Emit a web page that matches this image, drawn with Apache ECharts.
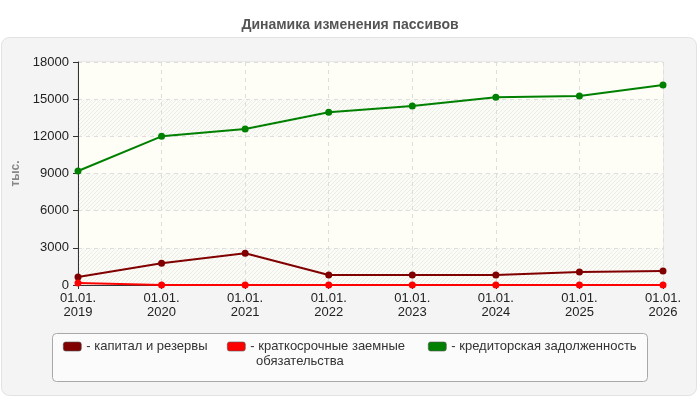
<!DOCTYPE html>
<html lang="ru">
<head>
<meta charset="utf-8">
<title>Динамика изменения пассивов</title>
<script src="https://cdn.jsdelivr.net/npm/echarts@6/dist/echarts.min.js"></script>
<style>
  html, body { margin: 0; padding: 0; background: #ffffff; }
  #chart { width: 700px; height: 400px; }
</style>
</head>
<body>
<div id="chart"></div>
<script>
const FONT = '"Liberation Sans", Arial, sans-serif';

// Данные (тыс.)
const dates = ['01.01.\n2019', '01.01.\n2020', '01.01.\n2021', '01.01.\n2022',
  '01.01.\n2023', '01.01.\n2024', '01.01.\n2025', '01.01.\n2026'];
const capital = [650, 1750, 2560, 800, 800, 800, 1050, 1130];
const shortLoans = [170, 0, 0, 0, 0, 0, 0, 0];
const payables = [9200, 12000, 12600, 13950, 14450, 15150, 15250, 16150];

const seriesNames = ['капитал и резервы', 'краткосрочные заемные обязательства', 'кредиторская задолженность'];
const seriesColors = ['#800000', '#ff0000', '#008000'];
const yTicks = { min: 0, max: 18000, interval: 3000 };

// штриховка для чередующихся полос фона
function hatch() {
  const c = document.createElement('canvas');
  c.width = 4; c.height = 4;
  const ctx = c.getContext('2d');
  ctx.fillStyle = '#fcfcf7';
  ctx.fillRect(0, 0, 4, 4);
  ctx.strokeStyle = '#ebebe7';
  ctx.lineWidth = 1;
  ctx.beginPath();
  ctx.moveTo(-1, 5); ctx.lineTo(5, -1);
  ctx.moveTo(3, 5); ctx.lineTo(5, 3);
  ctx.moveTo(-1, 1); ctx.lineTo(1, -1);
  ctx.stroke();
  return { image: c, repeat: 'repeat' };
}

const chart = echarts.init(document.getElementById('chart'), null, { renderer: 'canvas' });

const lineSeries = [capital, shortLoans, payables].map((data, i) => ({
  name: seriesNames[i],
  type: 'line',
  data,
  color: seriesColors[i],
  symbol: 'circle',
  symbolSize: 7,
  lineStyle: { width: 2, color: seriesColors[i] },
  itemStyle: { color: seriesColors[i] },
  emphasis: { disabled: true },
  z: 3 + i,
}));

// одна легенда на серию, чтобы выставить позиции как на картинке
const legendLeft = [63, 227, 428];
const legends = seriesNames.map((name, i) => ({
  left: legendLeft[i],
  top: 340,
  padding: 0,
  itemWidth: 18,
  itemHeight: 9,
  icon: 'roundRect',
  selectedMode: false,
  data: [{ name, itemStyle: { color: seriesColors[i], borderColor: '#555555', borderWidth: 0.6 } }],
  formatter: (n) => '- ' + (n === seriesNames[1] ? 'краткосрочные заемные' : n),
  textStyle: { fontFamily: FONT, fontSize: 13, color: '#333333' },
}));

chart.setOption({
  animation: false,
  backgroundColor: '#ffffff',
  textStyle: { fontFamily: FONT },
  title: {
    text: 'Динамика изменения пассивов',
    left: 'center',
    top: 13,
    textStyle: { fontFamily: FONT, fontSize: 14, fontWeight: 'bold', color: '#555555' },
  },
  graphic: [
    {
      type: 'rect', z: -10, silent: true,
      shape: { x: 1.5, y: 37.5, width: 695, height: 358, r: 8 },
      style: { fill: '#f4f4f4', stroke: '#e2e2e2', lineWidth: 1 },
    },
    {
      type: 'rect', z: -9, silent: true,
      shape: { x: 52.5, y: 333.5, width: 595, height: 48, r: 4 },
      style: { fill: '#fbfbfb', stroke: '#a8a8a8', lineWidth: 1 },
    },
    {
      type: 'text', z: 10, silent: true,
      left: 256, top: 355,
      style: { text: 'обязательства', fontFamily: FONT, fontSize: 13, fill: '#333333' },
    },
  ],
  legend: legends,
  grid: {
    left: 78,
    right: 37,
    top: 62,
    bottom: 115,
    show: true,
    backgroundColor: '#fefef7',
    borderColor: '#dddddd',
    borderWidth: 1,
  },
  xAxis: {
    type: 'category',
    data: dates,
    boundaryGap: false,
    axisLine: { lineStyle: { color: '#333333', width: 1 } },
    axisTick: { show: true, length: 4, lineStyle: { color: '#333333' } },
    axisLabel: { margin: 6, fontSize: 13, lineHeight: 14, color: '#222222', fontFamily: FONT },
    splitLine: { show: true, lineStyle: { color: '#dddddd', type: [4, 4] } },
  },
  yAxis: {
    type: 'value',
    min: yTicks.min,
    max: yTicks.max,
    interval: yTicks.interval,
    name: 'тыс.',
    nameLocation: 'middle',
    nameGap: 46,
    nameTextStyle: { fontFamily: FONT, fontSize: 12, fontWeight: 'bold', color: '#888888' },
    axisLine: { show: true, lineStyle: { color: '#333333', width: 1 } },
    axisTick: { show: true, length: 5, lineStyle: { color: '#333333' } },
    axisLabel: { margin: 9, fontSize: 13, color: '#222222', fontFamily: FONT, formatter: (v) => String(v) },
    splitLine: { show: true, lineStyle: { color: '#dddddd', type: [4, 4] } },
    splitArea: { show: true, areaStyle: { color: [hatch(), '#fefef7'] } },
  },
  series: lineSeries,
});
</script>
</body>
</html>
